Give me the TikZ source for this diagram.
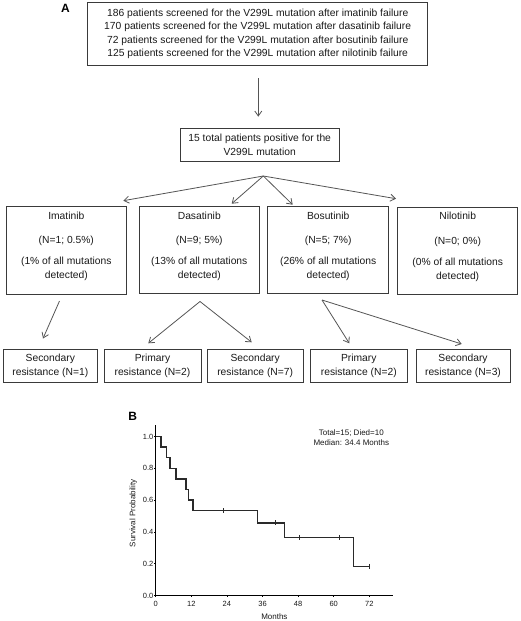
\documentclass[tikz,border=0pt]{standalone}
\usepackage{fontspec}
\setmainfont{Liberation Sans}
\usetikzlibrary{arrows.meta}
\definecolor{txtc}{HTML}{1A1A1A}
\definecolor{boxc}{HTML}{3A3A3A}
\definecolor{linec}{HTML}{555555}
\definecolor{kmc}{HTML}{2A2A2A}
\begin{document}
\begin{tikzpicture}[x=1pt,y=-1pt,
  box/.style={draw=boxc, line width=0.9pt, inner sep=0pt, align=center,
    font=\fontsize{10.3}{13.4}\selectfont, text=txtc},
  txt/.style={align=center, font=\fontsize{10.3}{13.7}\selectfont, text=txtc, inner sep=0pt},
  arr/.style={draw=linec, line width=0.8pt, -{Straight Barb[length=5pt,width=7pt]}},
  panel/.style={font=\fontsize{12}{12}\selectfont\bfseries, text=black, inner sep=0pt},
  axisline/.style={draw=black, line width=0.8pt},
  km/.style={draw=kmc, line width=1.5pt},
  cens/.style={draw=kmc, line width=0.7pt},
  tick/.style={font=\fontsize{7.5}{8}\selectfont, text=txtc, inner sep=0pt},
  small/.style={font=\fontsize{8}{10}\selectfont, text=txtc, inner sep=0pt, align=center}]
\fill[white] (0,0) rectangle (520,621);
\useasboundingbox (0,0) rectangle (520,621);

% Panel A
\node[panel] (labA) at (65.5,8.5) {A};
\node[box, minimum width=340pt, minimum height=62.6pt] (scr) at (257.7,34)
  {186 patients screened for the V299L mutation after imatinib failure\\
   170 patients screened for the V299L mutation after dasatinib failure\\
   72 patients screened for the V299L mutation after bosutinib failure\\
   125 patients screened for the V299L mutation after nilotinib failure};
\node[box, minimum width=159.3pt, minimum height=33.4pt,
  font=\fontsize{10.3}{14}\selectfont] (tot) at (259.7,145)
  {15 total patients positive for the\\V299L mutation};
\coordinate (s1) at (258.3,78.3);
\coordinate (e1) at (258.3,116.7);
\draw[arr] (s1) -- (e1);

% drug boxes
\node[box, minimum width=120.7pt, minimum height=88pt] (ima) at (66.3,250) {};
\node[box, minimum width=120.7pt, minimum height=86.6pt] (das) at (199.3,250) {};
\node[box, minimum width=121pt, minimum height=86.6pt] (bos) at (328.2,250) {};
\node[box, minimum width=120pt, minimum height=87pt] (nil) at (457.7,250.8) {};
\node[txt] (imaT) at (66.3,246.3) {Imatinib\\[10.9pt](N=1; 0.5\%)\\[7.3pt](1\% of all mutations\\detected)};
\node[txt] (dasT) at (199.3,246.3) {Dasatinib\\[10.9pt](N=9; 5\%)\\[7.3pt](13\% of all mutations\\detected)};
\node[txt] (bosT) at (328.2,246.3) {Bosutinib\\[10.9pt](N=5; 7\%)\\[7.3pt](26\% of all mutations\\detected)};
\node[txt] (nilT) at (457.7,246.8) {Nilotinib\\[10.9pt](N=0; 0\%)\\[7.3pt](0\% of all mutations\\detected)};

\coordinate (apex) at (263.3,176);
\coordinate (fa) at (123.3,200.7);
\coordinate (fb) at (231.7,203.7);
\coordinate (fc) at (292.7,204.7);
\coordinate (fd) at (396,198.7);
\draw[arr] (apex) -- (fa);
\draw[arr] (apex) -- (fb);
\draw[arr] (apex) -- (fc);
\draw[arr] (apex) -- (fd);

% outcome boxes
\node[box, minimum width=94pt, minimum height=33.3pt] (o1) at (50.3,365.7) {Secondary\\resistance (N=1)};
\node[box, minimum width=97pt, minimum height=33.3pt] (o2) at (152.5,365.7) {Primary\\resistance (N=2)};
\node[box, minimum width=95.7pt, minimum height=33.3pt] (o3) at (255.2,365.7) {Secondary\\resistance (N=7)};
\node[box, minimum width=97pt, minimum height=33.3pt] (o4) at (358.8,365.7) {Primary\\resistance (N=2)};
\node[box, minimum width=94pt, minimum height=33.3pt] (o5) at (463,365.7) {Secondary\\resistance (N=3)};

\coordinate (ia) at (59.5,301);
\coordinate (ib) at (43,338.5);
\draw[arr] (ia) -- (ib);
\coordinate (da) at (200,301.5);
\coordinate (db) at (148.3,343.3);
\coordinate (dc) at (251.7,342.3);
\draw[arr] (da) -- (db);
\draw[arr] (da) -- (dc);
\coordinate (ba) at (322,300);
\coordinate (bb) at (349.3,343.3);
\coordinate (bc) at (461.7,344);
\draw[arr] (ba) -- (bb);
\draw[arr] (ba) -- (bc);

% Panel B
\node[panel] (labB) at (132.7,416.7) {B};
\node[small] (ann) at (351.3,437.7) {Total=15; Died=10\\Median: 34.4 Months};
\begin{scope}[shift={(155.7,595.5)}, x=2.9667pt, y=159pt]
  \draw[axisline] (0,1.072) -- (0,0) -- (79.9,0);
  \foreach \v in {0.0,0.2,0.4,0.6,0.8,1.0} {
    \draw[axisline, line width=0.6pt] (0,\v) -- ++(-1.8pt,0);
    \node[tick, anchor=east] at ([xshift=-2.2pt]0,\v) {\v};
  }
  \foreach \m in {0,12,24,36,48,60,72} {
    \draw[axisline, line width=0.6pt] (\m,0) -- ++(0,-1.8pt);
    \node[tick] at ([yshift=-8.5pt]\m,0) {\m};
  }
  \node[small] (xlab) at ([yshift=-21.2pt]40,0) {Months};
  \node[small, rotate=90] (ylab) at ([xshift=-22.4pt]0,0.517) {Survival Probability};
  \draw[km] (0,1) -| (1.8,0.9333) -| (3.7,0.8667) -| (4.8,0.8) -| (6.9,0.7333)
    -| (10.2,0.6667) -| (11,0.6) -| (12.5,0.5333) -| (34.3,0.4571)
    -| (43.4,0.3657) -| (66.7,0.1829) -- (72,0.1829);
  \foreach \m/\s in {22.8/0.5333, 40.3/0.4571, 48.4/0.3657, 61.8/0.3657, 72/0.1829}
    \draw[cens] ([yshift=2.5pt]\m,\s) -- ([yshift=-2.5pt]\m,\s);
\end{scope}
\end{tikzpicture}
\end{document}
